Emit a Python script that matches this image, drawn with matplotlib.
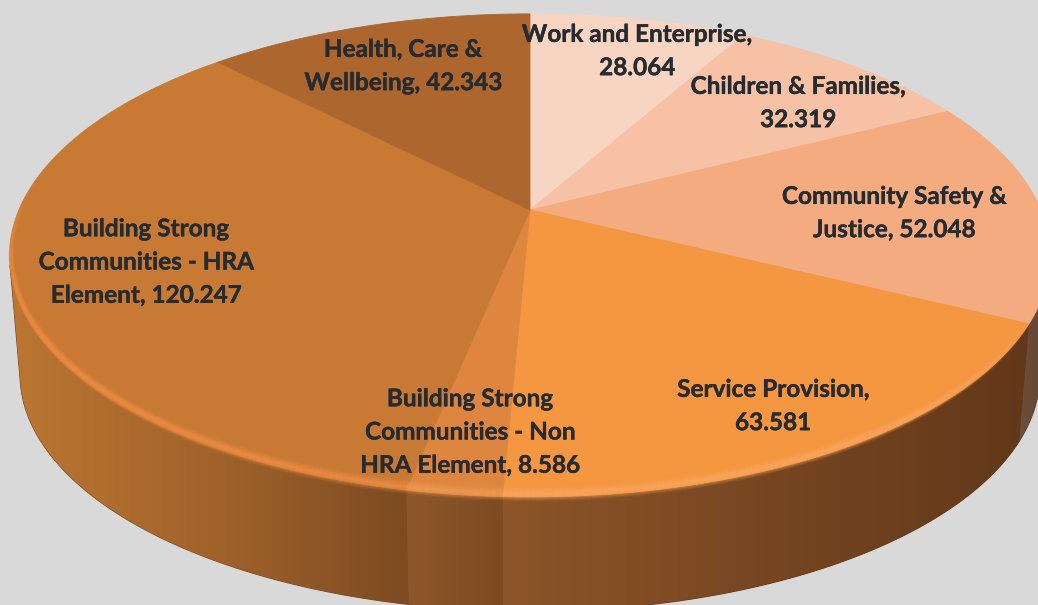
"""Perspective 3D pie of budget by outcome, drawn as projected polygons."""
import matplotlib
matplotlib.use("Agg")
import matplotlib.pyplot as plt
import matplotlib.patheffects as pe
import numpy as np
from matplotlib.collections import LineCollection
from matplotlib.colors import LinearSegmentedColormap, to_rgb
from matplotlib.patches import Polygon

CATEGORIES = ["Work and Enterprise", "Children & Families", "Community Safety & Justice",
              "Service Provision", "Building Strong Communities - Non HRA Element",
              "Building Strong Communities - HRA Element", "Health, Care & Wellbeing"]
VALUES = [28.064, 32.319, 52.048, 63.581, 8.586, 120.247, 42.343]
LABELS = ["Work and Enterprise,\n28.064", "Children & Families,\n32.319",
          "Community Safety &\nJustice, 52.048", "Service Provision,\n63.581",
          "Building Strong\nCommunities - Non\nHRA Element, 8.586",
          "Building Strong\nCommunities - HRA\nElement, 120.247",
          "Health, Care &\nWellbeing, 42.343"]
LABEL_POS = [(637, 51), (798, 103), (894, 213), (773, 406), (470, 432), (146, 262), (403, 66)]

FACE = ["#f8d5c2", "#f6c1a5", "#f4ab80", "#f59641", "#de863f", "#c87a35", "#ad662d"]
WALL = [None, None, ["#6e4e3a", "#5f4433"], ["#8c552a", "#774621", "#62381a"],
        ["#8e572a", "#7c4a23"], ["#bb7632", "#a2632b", "#7c4b22"], None]
BEVEL = [None, None, None, "#fba65e", "#ee9a55", "#ee8d45", None]
BG = "#d9d9d9"
INK = "#262b2f"

# projection of the pie disc, pixel units
CX, CY, A, B, K = 530, 210, 233, 511, 0.188
DROP, SHRINK = 120, 0.98


def rim(theta, scale=1.0, drop=0.0):
    t = np.radians(theta)
    u, v = np.sin(t), np.cos(t)
    w = 1 + K * v
    return CX + scale * B * u / w, CY + drop - scale * A * v / w


def arc(a, b):
    return np.linspace(a, b, max(int(abs(b - a) * 2), 2))


def tangents():
    # rim points where the extrusion direction touches the silhouette
    th = arc(0, 360)
    x, y = rim(th)
    xb, yb = rim(th, SHRINK, DROP)
    cross = (xb - x) * np.gradient(y) - (yb - y) * np.gradient(x)
    right = th[(th > 60) & (th < 130)][np.argmin(np.abs(cross[(th > 60) & (th < 130)]))]
    left = th[(th > 230) & (th < 300)][np.argmin(np.abs(cross[(th > 230) & (th < 300)]))]
    return right, left


fig = plt.figure(figsize=(10.38, 6.05), dpi=100, facecolor=BG)
ax = fig.add_axes([0, 0, 1, 1])
ax.set_facecolor(BG)
ax.axis("off")

edges = np.concatenate([[0], np.cumsum(VALUES)]) / np.sum(VALUES) * 360
tan_right, tan_left = tangents()

# side wall, horizontal shading per slice
for i, stops in enumerate(WALL):
    if stops is None:
        continue
    th = arc(max(edges[i], tan_right), min(edges[i + 1], tan_left))
    x1, y1 = rim(th)
    x2, y2 = rim(th[::-1], SHRINK, DROP)
    pts = np.column_stack([np.r_[x1, x2], np.r_[y1, y2]])
    ax.fill(pts[:, 0], pts[:, 1], color=stops[-1], lw=0.8, zorder=0.5)
    cmap = LinearSegmentedColormap.from_list(f"wall{i}", stops)
    im = ax.imshow(np.linspace(0, 1, 256)[None, :], cmap=cmap, aspect="auto", zorder=1,
                   extent=(pts[:, 0].min(), pts[:, 0].max(), 700, 0))
    im.set_clip_path(Polygon(pts, transform=ax.transData))

# top face
for i, color in enumerate(FACE):
    x, y = rim(arc(edges[i], edges[i + 1]))
    ax.fill(np.r_[CX, x], np.r_[CY, y], color=color, lw=0.6, zorder=2)

# soft bevel along the front rim, fading out towards both sides
offsets = np.linspace(-0.05, 0.03, 28)
for i, color in enumerate(BEVEL):
    if color is None:
        continue
    th = arc(max(edges[i], 112), min(edges[i + 1], 275))
    t = np.radians(th)
    w = 1 + K * np.cos(t)
    fade = np.clip((th - 112) / 35, 0, 1) * np.clip((275 - th) / 35, 0, 1)
    for off in offsets:
        x = CX + B * np.sin(t) / w + min(off, 0) * 0.22 * B * np.sin(t)
        y = CY - A * np.cos(t) / w - off * A * np.cos(t)
        peak = max(1 - abs(off + 0.014) / 0.036, 0) ** 1.5 * 0.55
        seg = np.column_stack([x, y])
        segs = np.stack([seg[:-1], seg[1:]], axis=1)
        rgba = [(*to_rgb(color), peak * f) for f in fade[:-1]]
        ax.add_collection(LineCollection(segs, colors=rgba, linewidths=1.3, zorder=3,
                                         capstyle="butt"))

for label, (x, y) in zip(LABELS, LABEL_POS):
    ax.text(x, y, label, ha="center", va="center", fontsize=17.5, fontweight="bold",
            family="Lato", color=INK, linespacing=1.54, zorder=5,
            path_effects=[pe.withStroke(linewidth=0.3, foreground=INK)])

ax.set_xlim(0, 1038)
ax.set_ylim(605, 0)
fig.savefig("out.png", dpi=100, facecolor=BG)
